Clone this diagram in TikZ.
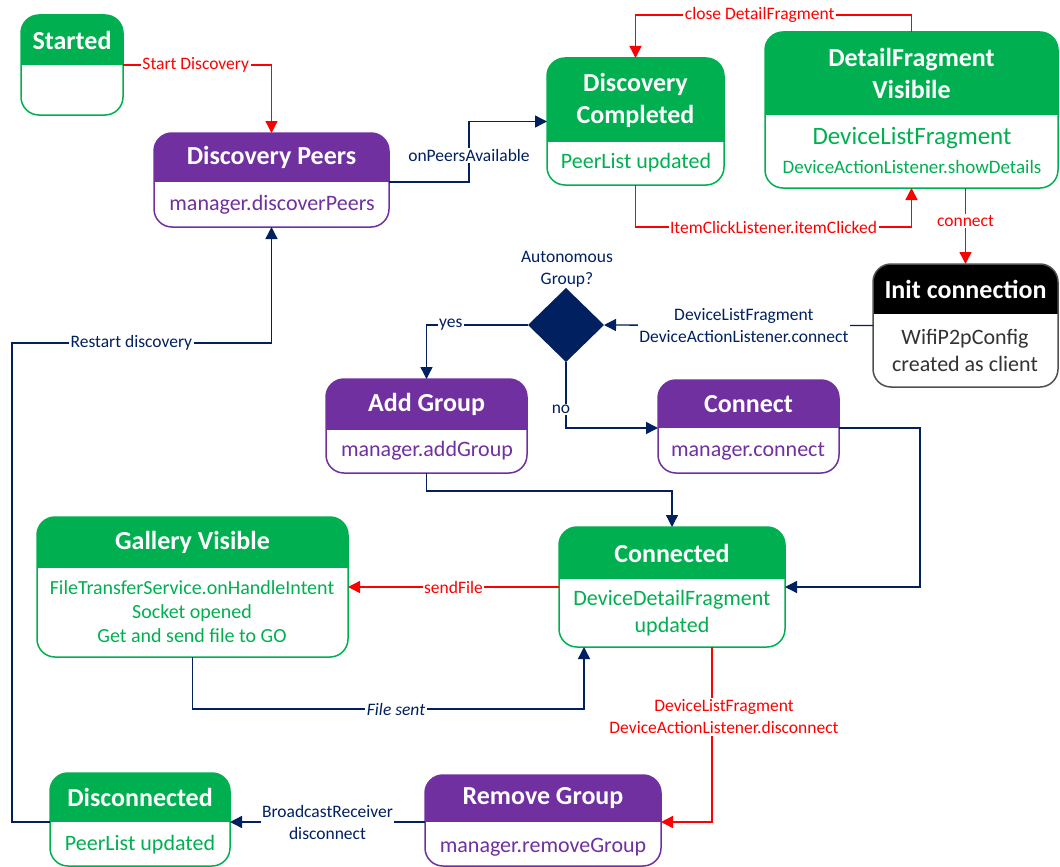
\documentclass[tikz,border=0pt]{standalone}
\usepackage{fontspec}
\setmainfont{Carlito}
\usetikzlibrary{arrows.meta,shapes.geometric}

\definecolor{stgreen}{HTML}{00B050}
\definecolor{stpurple}{HTML}{7030A0}
\definecolor{navy}{HTML}{002060}
\definecolor{alarm}{HTML}{FF0000}
\definecolor{initgrey}{HTML}{505050}
\definecolor{inittext}{HTML}{333333}

\tikzset{
  frame/.style={rectangle, rounded corners=18pt, line width=1.5pt, fill=white,
    inner sep=0pt, outer sep=0pt},
  hdr/.style={inner sep=0pt, outer sep=0pt, text=white, align=center,
    font=\fontsize{26}{32}\selectfont\bfseries},
  bodytxt/.style={inner sep=0pt, align=center, font=\fontsize{22}{27}\selectfont},
  lbl/.style={fill=white, inner sep=1.5pt, align=center,
    font=\fontsize{17.5}{22}\selectfont},
  tip/.style={-{Triangle[length=12pt,width=12pt]}},
  redflow/.style={draw=alarm, line width=1.4pt, tip},
  blueflow/.style={draw=navy, line width=1.4pt, tip},
}

% state box: name, left, top, right, header bottom, bottom, header colour, border colour, title
\newcommand\stbox[9]{%
  \node[frame, draw=#8, minimum width={(#4-#2)*1pt}, minimum height={(#6-#3)*1pt},
        path picture={\fill[#7, sharp corners] (path picture bounding box.north west) rectangle
          ([yshift={(#3-#5)*1pt}]path picture bounding box.north east);}]
    (#1) at ({(#2+#4)/2},{(#3+#6)/2}) {};
  \node[hdr, minimum width={(#4-#2)*1pt}, minimum height={(#5-#3)*1pt}]
    (#1h) at ({(#2+#4)/2},{(#3+#5)/2}) {#9};
}

\begin{document}
\begin{tikzpicture}[x=1pt,y=-1pt]
\useasboundingbox (0,0) rectangle (1060,867);

% ---- states ----
\stbox{started}{21}{15}{123}{65}{115}{stgreen}{stgreen}{Started}
\stbox{peers}{154}{133}{389}{182}{227}{stpurple}{stpurple}{Discovery Peers}
\stbox{done}{547}{58}{724}{142}{185}{stgreen}{stgreen}{Discovery\\Completed}
\stbox{detail}{765}{32}{1058}{115}{188}{stgreen}{stgreen}{DetailFragment\\Visibile}
\stbox{init}{873}{264}{1058}{314}{387}{black}{initgrey}{Init connection}
\stbox{addgrp}{326}{379}{527}{430}{473}{stpurple}{stpurple}{Add Group}
\stbox{conn}{658}{380}{839}{428}{473}{stpurple}{stpurple}{Connect}
\stbox{gallery}{37}{517}{348}{568}{657}{stgreen}{stgreen}{Gallery Visible}
\stbox{connected}{559}{527}{785}{579}{647}{stgreen}{stgreen}{Connected}
\stbox{disc}{50}{773}{230}{822}{866}{stgreen}{stgreen}{Disconnected}
\stbox{remove}{425}{775}{661}{822}{866}{stpurple}{stpurple}{Remove Group}

% ---- body texts ----
\node[bodytxt, text=stpurple] (peersb) at (272,205) {manager.discoverPeers};
\node[bodytxt, text=stgreen] (doneb) at (636,163) {PeerList updated};
\node[bodytxt, text=stgreen, font=\fontsize{25}{30}\selectfont] (detailb1) at (912,138) {DeviceListFragment};
\node[bodytxt, text=stgreen, font=\fontsize{19}{23}\selectfont] (detailb2) at (912,167) {DeviceActionListener.showDetails};
\node[bodytxt, text=inittext] (initb) at (965,350) {WifiP2pConfig\\created as client};
\node[bodytxt, text=stpurple] (addgrpb) at (427,451) {manager.addGroup};
\node[bodytxt, text=stpurple] (connb) at (748,451) {manager.connect};
\node[bodytxt, text=stgreen, font=\fontsize{20}{24}\selectfont] (galleryb) at (192,612)
  {FileTransferService.onHandleIntent\\Socket opened\\Get and send file to GO};
\node[bodytxt, text=stgreen] (connectedb) at (672,613) {DeviceDetailFragment\\updated};
\node[bodytxt, text=stgreen] (discb) at (140,845) {PeerList updated};
\node[bodytxt, text=stpurple] (removeb) at (543,847) {manager.removeGroup};

% ---- decision ----
\node[diamond, fill=navy, minimum width=76pt, minimum height=74pt, inner sep=0pt,
      outer sep=0pt] (dia) at (566,325) {};
\node[lbl, fill=none, text=navy] (diaq) at (567,269) {Autonomous\\Group?};

% ---- transitions ----
\draw[redflow] (startedh.south east) -| node[lbl, text=alarm, pos=0.245] {Start Discovery} (peers.north);

\draw[blueflow] (peersh.south east) -- ++(80,0)
  |- node[lbl, text=navy, pos=0.22] {onPeersAvailable} (done.west);

\draw[redflow] (detail.north) -- ++(0,-17)
  -| node[lbl, text=alarm, pos=0.275] {close DetailFragment} (done.north);

\draw[redflow] (done.south) -- ++(0,42)
  -| node[lbl, text=alarm, pos=0.25] {ItemClickListener.itemClicked} (detail.south);

\draw[redflow] (init.north |- detail.south) -- node[lbl, text=alarm, pos=0.43] {connect} (init.north);

\draw[blueflow] (init.west) -- node[lbl, text=navy, pos=0.48] {DeviceListFragment\\DeviceActionListener.connect} (dia.east);

\draw[blueflow] (dia.west) -| node[lbl, text=navy, pos=0.38] {yes} (addgrp.north);

\draw[blueflow] (dia.south) |- node[lbl, text=navy, pos=0.36, xshift=-5pt] {no} (connh.south west);

\draw[blueflow] (addgrp.south) -- ++(0,18) -| (connected.north);

\draw[blueflow] (connh.south east) -- ++(81,0) |- (connected.east);

\draw[redflow] (connected.west) -- node[lbl, text=alarm] {sendFile} (gallery.east);

\draw[blueflow] (gallery.south) -- ++(0,52)
  -| node[lbl, text=navy, pos=0.26, font=\fontsize{17.5}{22}\selectfont\itshape] {File sent}
  ([xshift=25pt]connected.south west);

\draw[redflow] ([xshift=40pt]connected.south)
  |- node[lbl, text=alarm, pos=0.2, xshift=12pt] {DeviceListFragment\\DeviceActionListener.disconnect}
  (removeh.south east);

\draw[blueflow] (removeh.south west) -- node[lbl, text=navy] {BroadcastReceiver\\disconnect} (disch.south east);

\draw[blueflow] (disch.south west) -- ++(-38,0) -- ++(0,-479)
  -| node[lbl, text=navy, pos=0.23] {Restart discovery} (peers.south);
\end{tikzpicture}
\end{document}
